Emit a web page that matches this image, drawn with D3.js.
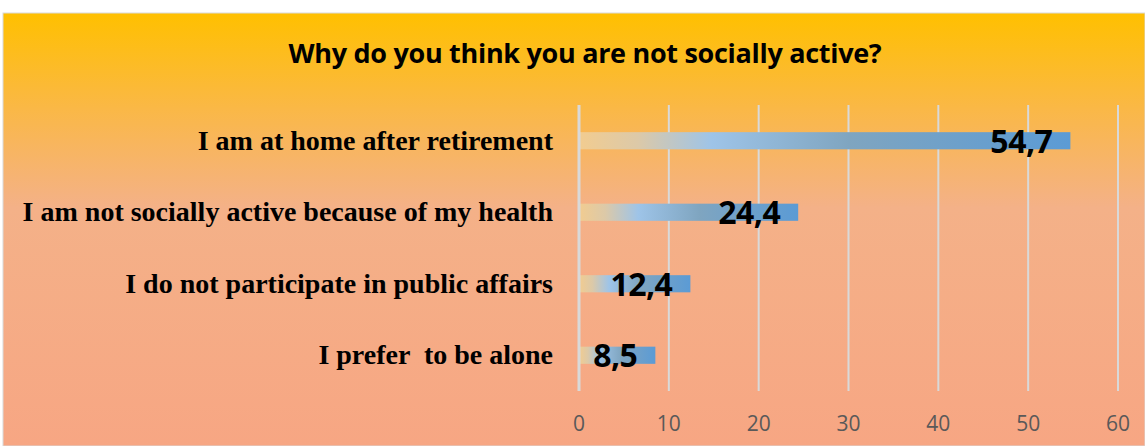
<!DOCTYPE html>
<html><head><meta charset="utf-8">
<script src="https://cdn.jsdelivr.net/npm/d3@7"></script>
<style>body{margin:0;background:#fff}</style>
</head><body>
<svg id="c" width="1145" height="446"></svg>
<script>
const categories = ["I am at home after retirement","I am not socially active because of my health","I do not participate in public affairs","I prefer  to be alone"];
const values = [54.7, 24.4, 12.4, 8.5];
const valueLabels = ["54,7","24,4","12,4","8,5"];
const ticks = [0,10,20,30,40,50,60];
const title = "Why do you think you are not socially active?";

const svg = d3.select("#c");
const defs = svg.append("defs");
const bg = defs.append("linearGradient").attr("id","bg").attr("x1",0).attr("y1",0).attr("x2",0).attr("y2",1);
bg.append("stop").attr("offset","0%").attr("stop-color","#FFC000");
bg.append("stop").attr("offset","22%").attr("stop-color","#FAB846");
bg.append("stop").attr("offset","45%").attr("stop-color","#F4B188");
bg.append("stop").attr("offset","100%").attr("stop-color","#F7A683");
const bar = defs.append("linearGradient").attr("id","bar").attr("x1",0).attr("y1",0).attr("x2",1).attr("y2",0);
bar.append("stop").attr("offset","0%").attr("stop-color","#F2CC90");
bar.append("stop").attr("offset","12%").attr("stop-color","#DCC9A8");
bar.append("stop").attr("offset","27%").attr("stop-color","#9EC4E8");
bar.append("stop").attr("offset","55%").attr("stop-color","#7FA5C0");
bar.append("stop").attr("offset","100%").attr("stop-color","#5B9BD5");

svg.append("rect").attr("x",3).attr("y",13).attr("width",1142).attr("height",433)
  .attr("fill","url(#bg)").attr("stroke","#D9D9D9").attr("stroke-width",1);

svg.append("text").attr("x",585).attr("y",63).attr("text-anchor","middle")
  .attr("font-family","Open Sans, sans-serif").attr("font-weight","bold").attr("font-size",27)
  .attr("fill","#000").style("letter-spacing","-0.3px").text(title);

const x = d3.scaleLinear().domain([0,60]).range([579,1118]);
const y = d3.scaleBand().domain(categories).range([105,391]).paddingInner(0.76).paddingOuter(0.38);

const g = svg.append("g");
g.selectAll("line.grid").data(ticks.slice(1)).join("line")
  .attr("x1",d=>x(d)).attr("x2",d=>x(d)).attr("y1",105).attr("y2",391)
  .attr("stroke","#D9D9D9").attr("stroke-width",2);

g.selectAll("rect.bar").data(values).join("rect")
  .attr("x",x(0)).attr("y",(d,i)=>y(categories[i]))
  .attr("width",d=>x(d)-x(0)).attr("height",y.bandwidth())
  .attr("fill","url(#bar)");

g.append("line").attr("x1",x(0)).attr("x2",x(0)).attr("y1",105).attr("y2",391)
  .attr("stroke","#D9D9D9").attr("stroke-width",3);

g.selectAll("text.val").data(values).join("text")
  .attr("x",d=>x(d)-18).attr("y",(d,i)=>y(categories[i])+y.bandwidth()/2+12)
  .attr("text-anchor","end").attr("font-family","Open Sans, sans-serif").attr("font-weight","bold")
  .attr("font-size",32).attr("fill","#000").style("letter-spacing","-0.5px")
  .text((d,i)=>valueLabels[i]);

g.selectAll("text.cat").data(categories).join("text")
  .attr("x",553).attr("y",d=>y(d)+y.bandwidth()/2+9)
  .attr("text-anchor","end").attr("font-family","Liberation Serif, serif").attr("font-weight","bold")
  .attr("font-size",28).attr("fill","#000").style("white-space","pre").text(d=>d);

g.selectAll("text.tick").data(ticks).join("text")
  .attr("x",d=>x(d)).attr("y",431).attr("text-anchor","middle")
  .attr("font-family","Open Sans, sans-serif").attr("font-size",21).attr("fill","#595959")
  .text(d=>d);
</script>
</body></html>
